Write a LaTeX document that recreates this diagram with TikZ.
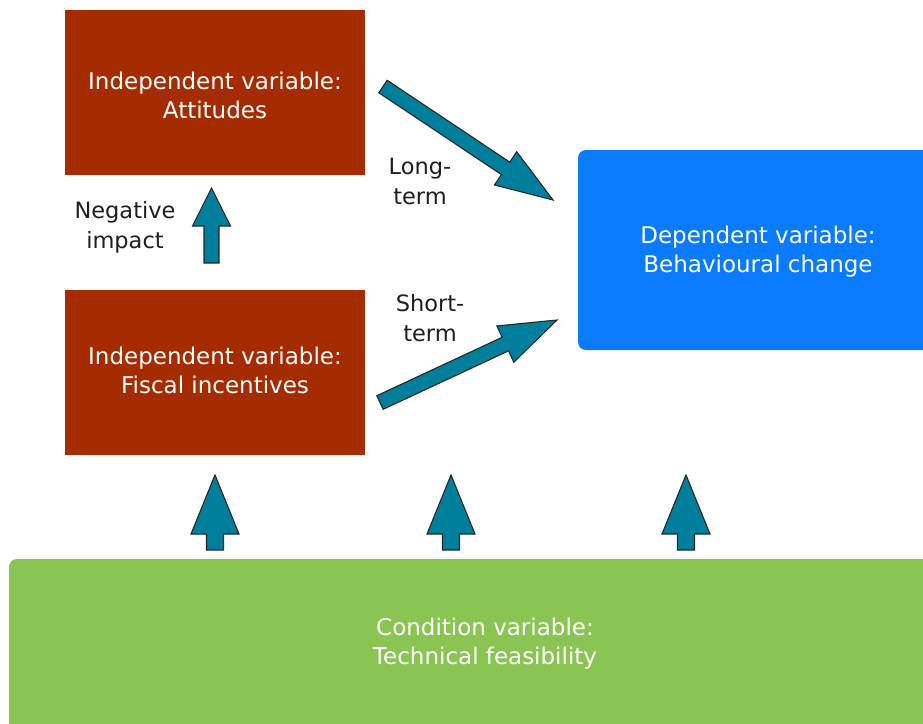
\documentclass[tikz,border=0pt]{standalone}
\usepackage{fontspec}
\setmainfont{DejaVu Sans}
\usetikzlibrary{calc}

\definecolor{indred}{HTML}{A52B00}
\definecolor{depblue}{HTML}{0A7BFF}
\definecolor{condgreen}{HTML}{8AC452}
\definecolor{arrowteal}{HTML}{007F9C}

\tikzset{
  varbox/.style={rectangle, inner sep=0pt, text=white, align=center,
    font=\fontsize{23}{29}\selectfont},
  notetext/.style={text=black!88, align=center, inner sep=0pt,
    font=\fontsize{22.5}{30}\selectfont},
  fatarrow/.style={fill=arrowteal, draw=black!85, line width=1.1pt, line join=miter}
}

% block arrow: #1 tail, #2 tip, #3 half shaft width, #4 half head width, #5 head length
\newcommand\blockarrow[5]{%
  \coordinate (bh) at ($(#2)!#5!(#1)$);
  \filldraw[fatarrow] ($(#1)!#3!90:(#2)$) -- ($(bh)!#3!90:(#2)$)
    -- ($(bh)!#4!90:(#2)$) -- (#2) -- ($(bh)!#4!-90:(#2)$)
    -- ($(bh)!#3!-90:(#2)$) -- ($(#1)!#3!-90:(#2)$) -- cycle;}

\begin{document}
\begin{tikzpicture}[x=1pt, y=-1pt]
  \useasboundingbox (0,0) rectangle (923,723);
  \clip (0,0) rectangle (923,723);

  % variable boxes
  \node[varbox, fill=indred, minimum width=300, minimum height=165] (att) at (215,92.5) {};
  \node[varbox, fill=indred, minimum width=300, minimum height=165] (fis) at (215,372.5) {};
  \node[varbox, fill=depblue, rounded corners=8, minimum width=360, minimum height=200] (dep) at (758,250) {};
  \node[varbox, fill=condgreen, rounded corners=8, minimum width=952, minimum height=172] (cond) at (485,645) {};

  % box texts
  \node[varbox] (attt) at ($(att)+(0,3)$) {Independent variable:\\Attitudes};
  \node[varbox] (fist) at ($(fis)+(0,-2)$) {Independent variable:\\Fiscal incentives};
  \node[varbox] (dept) at ($(dep)+(0,2)$) {Dependent variable:\\Behavioural change};
  \node[varbox] (condt) at ($(cond)+(0,-1)$) {Condition variable:\\Technical feasibility};

  % arrow end points
  \coordinate (lts) at (383,86.5);  \coordinate (lte) at (553,200);
  \coordinate (sts) at (380,402.5); \coordinate (ste) at (557,320);
  \coordinate (nis) at (211.5,263); \coordinate (nie) at (211.5,188);
  \coordinate (c1s) at (215,550);   \coordinate (c1e) at (215,475);
  \coordinate (c2s) at (451,550);   \coordinate (c2e) at (451,475);
  \coordinate (c3s) at (686,550);   \coordinate (c3e) at (686,475);

  % connectors
  \blockarrow{lts}{lte}{7.5pt}{20pt}{57pt}
  \blockarrow{sts}{ste}{7.5pt}{20pt}{57pt}
  \blockarrow{nis}{nie}{7.5pt}{19pt}{38pt}
  \blockarrow{c1s}{c1e}{8.5pt}{24pt}{59pt}
  \blockarrow{c2s}{c2e}{8.5pt}{24pt}{59pt}
  \blockarrow{c3s}{c3e}{8.5pt}{24pt}{59pt}

  % connector labels
  \node[notetext] (ltl) at (420,181) {Long-\\term};
  \node[notetext] (stl) at (430,318) {Short-\\term};
  \node[notetext] (nil) at (125,227) {Negative\\impact};
\end{tikzpicture}
\end{document}
